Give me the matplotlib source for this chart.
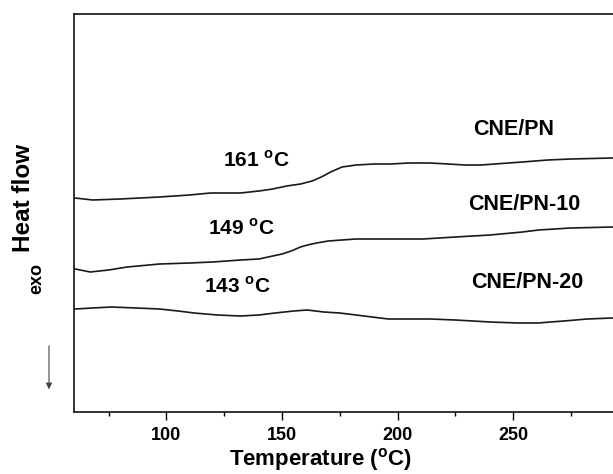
import matplotlib
matplotlib.use("Agg")
import matplotlib.pyplot as plt

plt.rcParams['font.family'] = ['Liberation Sans', 'DejaVu Sans']
plt.rcParams['font.weight'] = 'bold'
plt.rcParams['mathtext.fontset'] = 'custom'
plt.rcParams['mathtext.rm'] = 'Liberation Sans:bold'
plt.rcParams['mathtext.bf'] = 'Liberation Sans:bold'

# DSC curves, heat flow in arbitrary units (exo down)
t_pn = [60.5, 68, 80, 97, 110, 119, 132, 140, 146, 152, 158, 163, 167, 171, 176, 182,
        190, 197, 205, 214, 222, 229, 236, 242, 254, 265, 275, 293]
hf_pn = [2.14, 2.12, 2.13, 2.15, 2.17, 2.19, 2.19, 2.21, 2.23, 2.26, 2.28, 2.31, 2.35, 2.40,
         2.45, 2.47, 2.48, 2.48, 2.49, 2.49, 2.48, 2.47, 2.47, 2.48, 2.50, 2.52, 2.53, 2.54]

t_pn10 = [60.5, 67, 75, 83, 97, 110, 120, 132, 140, 146, 150, 154, 158, 161, 165, 170,
          176, 182, 195, 211, 225, 240, 254, 261, 268, 275, 293]
hf_pn10 = [1.43, 1.40, 1.42, 1.45, 1.48, 1.49, 1.50, 1.52, 1.53, 1.56, 1.58, 1.61, 1.65,
           1.67, 1.69, 1.71, 1.72, 1.73, 1.73, 1.73, 1.75, 1.77, 1.80, 1.82, 1.83, 1.84, 1.85]

t_pn20 = [60.5, 68, 76, 87, 97, 105, 112, 122, 132, 140, 147, 155, 161, 168, 175, 182,
          189, 196, 205, 214, 225, 240, 252, 261, 266, 272, 282, 293]
hf_pn20 = [1.03, 1.04, 1.05, 1.04, 1.03, 1.01, 0.99, 0.97, 0.96, 0.97, 0.99, 1.01, 1.02,
           1.00, 0.99, 0.97, 0.95, 0.93, 0.93, 0.93, 0.92, 0.90, 0.89, 0.89, 0.90, 0.91,
           0.93, 0.94]

names = ['CNE/PN', 'CNE/PN-10', 'CNE/PN-20']
name_pos = [(250.2, 2.77), (255.0, 2.02), (256.0, 1.24)]
tg_labels = ['161', '149', '143']
tg_pos = [(138.8, 2.45), (132.3, 1.77), (130.8, 1.19)]

fig = plt.figure(figsize=(6.13, 4.74), dpi=100)
ax = fig.add_axes([74/613, 62/474, 1 - 74/613, 398/474])

for t, hf in [(t_pn, hf_pn), (t_pn10, hf_pn10), (t_pn20, hf_pn20)]:
    ax.plot(t, hf, color='#1a1a1a', lw=1.2)

for name, (x, y) in zip(names, name_pos):
    ax.text(x, y, name, ha='center', va='baseline', fontsize=15.5, fontweight='bold')
for lab, (x, y) in zip(tg_labels, tg_pos):
    ax.text(x, y, lab + r' $^{\mathbf{o}}$C', ha='center', va='baseline',
            fontsize=15, fontweight='bold')

ax.set_xlim(60, 293.2)
ax.set_ylim(0, 3.98)
ax.set_xticks([100, 150, 200, 250])
ax.set_xticks([75, 125, 175, 225, 275], minor=True)
ax.set_yticks([])
ax.tick_params(axis='x', which='major', direction='out', length=5.5, width=1,
               labelsize=13, pad=5.5)
ax.tick_params(axis='x', which='minor', direction='out', length=3, width=1)
for lbl in ax.get_xticklabels():
    lbl.set_fontweight('bold')
for s in ['top', 'left', 'bottom']:
    ax.spines[s].set_linewidth(1.2)
    ax.spines[s].set_color('#111111')
ax.spines['right'].set_visible(False)

# axis titles placed as figure text
fig.text(321/613, 1 - 459/474, r'Temperature ($^{\mathbf{o}}$C)', ha='center',
         va='center', fontsize=16, fontweight='bold')
fig.text(24/613, 1 - 198/474, 'Heat flow', rotation=90, ha='center', va='center',
         fontsize=17.5, fontweight='bold')
fig.text(37/613, 1 - 278/474, 'exo', rotation=90, ha='center', va='center',
         fontsize=13, fontweight='bold')
ax.annotate('', xy=(-0.0464, 0.05), xytext=(-0.0464, 0.173), xycoords='axes fraction',
            arrowprops=dict(arrowstyle='-|>', color='#444444', lw=0.8, mutation_scale=9))

fig.savefig('out.png', dpi=100)
